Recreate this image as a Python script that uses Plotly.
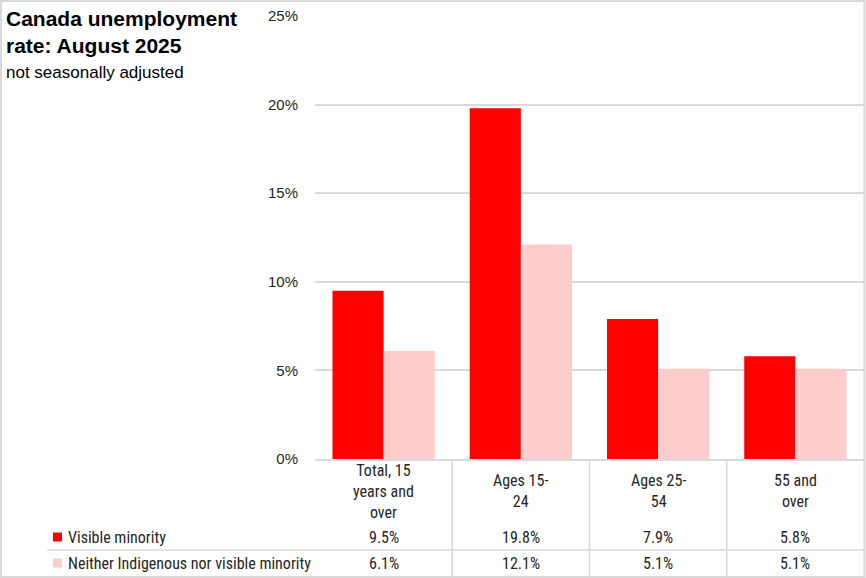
import plotly.graph_objects as go

categories = ["Total, 15<br>years and<br>over", "Ages 15-<br>24", "Ages 25-<br>54", "55 and<br>over"]
series_names = ["Visible minority", "Neither Indigenous nor visible minority"]
visible_minority = [9.5, 19.8, 7.9, 5.8]
neither = [6.1, 12.1, 5.1, 5.1]
colors = ["#FF0000", "#FFCCCC"]
y_ticks = [0, 5, 10, 15, 20, 25]

W, H = 866, 578
L, R, T, B = 315, 2, 16, 119
PW = W - L - R
PH = H - T - B

def px_x(p):
    return (p - L) / PW

def px_y(p):
    return (H - B - p) / PH

FONT = "Liberation Sans Narrow, Arial Narrow, Roboto Condensed, Liberation Sans, sans-serif"
TICKFONT = "Liberation Sans, Arial, sans-serif"
GRID = "#D9D9D9"
TXT = "#262626"

fig = go.Figure()
xs = list(range(len(categories)))
for name, vals, col in zip(series_names, [visible_minority, neither], colors):
    fig.add_trace(go.Bar(x=xs, y=vals, name=name, marker=dict(color=col, line=dict(width=0)),
                         hoverinfo="skip"))

fig.update_layout(
    width=W, height=H,
    margin=dict(l=L, r=R, t=T, b=B),
    paper_bgcolor="white", plot_bgcolor="white",
    barmode="group", bargap=0.255, bargroupgap=0,
    showlegend=False,
    font=dict(family=FONT, size=16, color=TXT),
)
fig.update_xaxes(range=[-0.5, len(categories) - 0.5], showticklabels=False, showgrid=False,
                 zeroline=False, showline=True, linecolor=GRID, linewidth=1.5, ticks="")
fig.update_yaxes(range=[0, 25], tickvals=y_ticks, ticktext=[f"{v}%" for v in y_ticks],
                 showgrid=True, gridcolor=GRID, gridwidth=1.5, zeroline=False, showline=False,
                 ticklabelstandoff=16, tickfont=dict(family=TICKFONT, size=15, color=TXT))

shapes = []
annotations = []

# category labels and table values
row1_y = px_y(537)
row2_y = px_y(563)
for i, cat in enumerate(categories):
    annotations.append(dict(x=i, y=px_y(491), xref="x", yref="paper", text=cat, showarrow=False,
                            xanchor="center", yanchor="middle", align="center",
                            font=dict(family=FONT, size=16, color=TXT)))
    annotations.append(dict(x=i, y=row1_y, xref="x", yref="paper", text=f"{visible_minority[i]:.1f}%",
                            showarrow=False, xanchor="center", yanchor="middle",
                            font=dict(family=FONT, size=16, color=TXT)))
    annotations.append(dict(x=i, y=row2_y, xref="x", yref="paper", text=f"{neither[i]:.1f}%",
                            showarrow=False, xanchor="center", yanchor="middle",
                            font=dict(family=FONT, size=16, color=TXT)))

# vertical table lines between categories
for i in range(len(categories) - 1):
    shapes.append(dict(type="line", xref="x", yref="paper", x0=i + 0.5, x1=i + 0.5,
                       y0=0, y1=px_y(576), line=dict(color=GRID, width=1.5)))

# horizontal separator between the two table rows
shapes.append(dict(type="line", xref="paper", yref="paper", x0=px_x(47), x1=1,
                   y0=px_y(550), y1=px_y(550), line=dict(color=GRID, width=1.5)))

# legend keys in table
for (name, col, yc) in [(series_names[0], colors[0], 537), (series_names[1], colors[1], 563)]:
    shapes.append(dict(type="rect", xref="paper", yref="paper", x0=px_x(53), x1=px_x(62),
                       y0=px_y(yc + 4.5), y1=px_y(yc - 4.5), fillcolor=col, line=dict(width=0)))
    annotations.append(dict(x=px_x(66), y=px_y(yc), xref="paper", yref="paper", text=name,
                            showarrow=False, xanchor="left", yanchor="middle",
                            font=dict(family=FONT, size=16, color=TXT)))

# outer border
shapes.append(dict(type="rect", xref="paper", yref="paper", x0=px_x(1), x1=px_x(864.5),
                   y0=px_y(577), y1=px_y(1), line=dict(color=GRID, width=2), fillcolor="rgba(0,0,0,0)"))

# title and subtitle
annotations.append(dict(x=px_x(4), y=px_y(5), xref="paper", yref="paper",
                        text="<b>Canada unemployment<br>rate: August 2025</b>", showarrow=False,
                        xanchor="left", yanchor="top", align="left",
                        font=dict(family="Liberation Sans, Arial, sans-serif", size=21, color="black")))
annotations.append(dict(x=px_x(4), y=px_y(73), xref="paper", yref="paper",
                        text="not seasonally adjusted", showarrow=False,
                        xanchor="left", yanchor="middle", align="left",
                        font=dict(family="Liberation Sans, Arial, sans-serif", size=17, color="black")))

fig.update_layout(shapes=shapes, annotations=annotations)
fig.write_html("out.html", config={"displayModeBar": False},
               post_script="document.body.style.margin='0';document.body.style.overflow='hidden';")
